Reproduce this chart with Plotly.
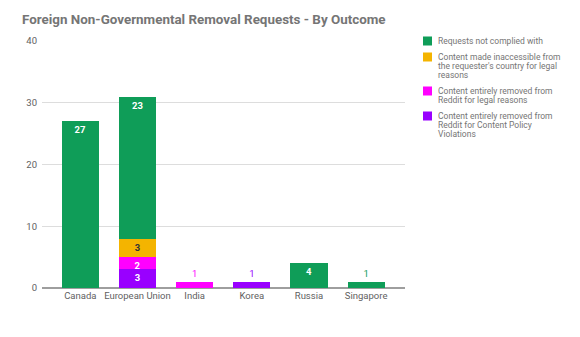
import plotly.graph_objects as go

categories = ["Canada", "European Union", "India", "Korea", "Russia", "Singapore"]
series_names = [
    "Content entirely removed from<br>Reddit for Content Policy<br>Violations",
    "Content entirely removed from<br>Reddit for legal reasons",
    "Content made inaccessible from<br>the requester's country for legal<br>reasons",
    "Requests not complied with",
]
policy_removed = [None, 3, None, 1, None, None]
legal_removed = [None, 2, 1, None, None, None]
inaccessible = [None, 3, None, None, None, None]
not_complied = [27, 23, None, None, 4, 1]
series_values = [policy_removed, legal_removed, inaccessible, not_complied]
colors = ["#9900FF", "#FF00FF", "#F4B400", "#0F9D58"]
inside_text_colors = ["#FFFFFF", "#FFFFFF", "#333333", "#FFFFFF"]
y_ticks = [0, 10, 20, 30, 40]

fig = go.Figure()
for name, vals, col, itc in zip(series_names, series_values, colors, inside_text_colors):
    positions, texts = [], []
    for v in vals:
        if v is None:
            positions.append("none")
            texts.append("")
        elif v <= 1:
            positions.append("outside")
            texts.append(str(v))
        else:
            positions.append("inside")
            texts.append("<b>" + str(v) + "</b>")
    fig.add_trace(go.Bar(
        x=categories, y=vals, name=name.replace("<br>", " "),
        marker=dict(color=col, line=dict(width=0)),
        text=texts,
        textposition=positions,
        insidetextanchor="end",
        constraintext="none",
        textangle=0,
        insidetextfont=dict(color=itc, size=9.5, family="Roboto"),
        outsidetextfont=dict(color=col, size=9.5, family="Roboto"),
        cliponaxis=False,
        width=0.65,
        showlegend=False,
    ))

# custom legend (tight line spacing like the original)
plot_top_px, plot_bottom_px, plot_left_px, plot_w_px = 41, 288, 42, 363
plot_h_px = plot_bottom_px - plot_top_px
line_pitch = 9.0
entry_gap = 16.0
y_cur = plot_top_px
for name, col in reversed(list(zip(series_names, colors))):
    lines = name.split("<br>")
    ypaper = (plot_bottom_px - y_cur) / plot_h_px
    fig.add_shape(type="rect", xref="paper", yref="paper",
                  x0=(423 - plot_left_px) / plot_w_px, x1=(432 - plot_left_px) / plot_w_px,
                  y0=ypaper - 4.5 / plot_h_px, y1=ypaper + 4.5 / plot_h_px,
                  fillcolor=col, line=dict(width=0))
    for j, ln in enumerate(lines):
        yl = y_cur + j * line_pitch
        fig.add_annotation(text=ln, xref="paper", yref="paper",
                           x=(437 - plot_left_px) / plot_w_px, xanchor="left",
                           y=(plot_bottom_px - yl) / plot_h_px, yanchor="middle",
                           showarrow=False, borderpad=0,
                           font=dict(size=8.5, color="#757575", family="Roboto"))
    y_cur += (len(lines) - 1) * line_pitch + entry_gap

fig.update_layout(
    barmode="stack",
    width=580, height=337,
    margin=dict(l=42, r=175, t=41, b=49),
    paper_bgcolor="white", plot_bgcolor="white",
    font=dict(family="Roboto", color="#616161", size=10),
    title=dict(text="<b>Foreign Non-Governmental Removal Requests - By Outcome</b>",
               x=0.038, xanchor="left", y=0.944, yanchor="middle",
               font=dict(size=13.4, color="#757575", family="Roboto")),
    showlegend=False,
)
fig.update_xaxes(range=[-0.67, 5.68], showgrid=False, showline=False, tickangle=0,
                 tickfont=dict(size=9.5, color="#616161"), ticks="")
fig.update_yaxes(range=[0, 40], tickvals=y_ticks, gridcolor="#DDDDDD", gridwidth=1,
                 zeroline=True, zerolinecolor="#9E9E9E", zerolinewidth=1.5,
                 tickfont=dict(size=9.5, color="#616161"), ticks="",
                 ticklabelstandoff=4, showline=False)

fig.write_html("out.html")
